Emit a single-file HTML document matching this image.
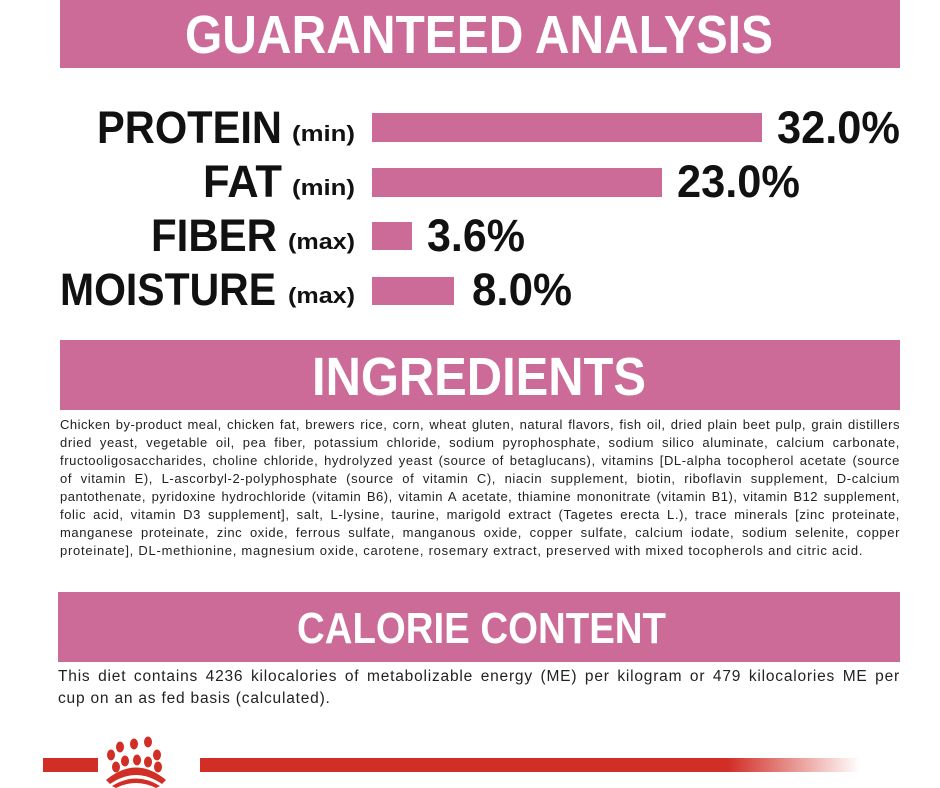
<!DOCTYPE html>
<html><head><meta charset="utf-8"><style>
html,body{margin:0;padding:0;background:#fff;width:940px;height:788px;overflow:hidden;position:relative}
svg{position:absolute;left:0;top:0}
.p{position:absolute;font-family:"Liberation Sans",sans-serif;color:#222;}
.l{white-space:nowrap;text-align:justify;text-align-last:justify;height:18px;line-height:18px}
.n{text-align-last:left}
</style></head><body>
<svg width="940" height="788" viewBox="0 0 940 788">
<defs><linearGradient id="g" x1="0" x2="1"><stop offset="0" stop-color="#d12e26"/><stop offset="0.8" stop-color="#d12e26"/><stop offset="1" stop-color="#d12e26" stop-opacity="0"/></linearGradient></defs>
<rect x="60" y="0" width="840" height="68" fill="#cc6b98"/>
<rect x="60" y="340" width="840" height="70" fill="#cc6b98"/>
<rect x="58" y="592" width="842" height="70" fill="#cc6b98"/>
<g font-family="Liberation Sans,sans-serif" font-weight="bold" fill="#fff">
<text x="185" y="53" font-size="54" textLength="588" lengthAdjust="spacingAndGlyphs">GUARANTEED ANALYSIS</text>
<text x="312" y="395" font-size="54" textLength="334" lengthAdjust="spacingAndGlyphs">INGREDIENTS</text>
<text x="297" y="643" font-size="44" textLength="369" lengthAdjust="spacingAndGlyphs">CALORIE CONTENT</text>
</g>
<g fill="#cc6b98">
<rect x="372" y="113" width="390" height="29"/>
<rect x="372" y="168" width="290" height="29"/>
<rect x="372" y="222" width="40" height="28"/>
<rect x="372" y="277" width="82" height="28"/>
</g>
<g font-family="Liberation Sans,sans-serif" font-weight="bold" fill="#111">
<text x="97" y="143" font-size="45" textLength="185" lengthAdjust="spacingAndGlyphs">PROTEIN</text>
<text x="203" y="197" font-size="45" textLength="79" lengthAdjust="spacingAndGlyphs">FAT</text>
<text x="151" y="251" font-size="45" textLength="126" lengthAdjust="spacingAndGlyphs">FIBER</text>
<text x="60" y="305" font-size="45" textLength="216" lengthAdjust="spacingAndGlyphs">MOISTURE</text>
<text x="292" y="141" font-size="22" textLength="63" lengthAdjust="spacingAndGlyphs">(min)</text>
<text x="292" y="195" font-size="22" textLength="63" lengthAdjust="spacingAndGlyphs">(min)</text>
<text x="288" y="249" font-size="22" textLength="67" lengthAdjust="spacingAndGlyphs">(max)</text>
<text x="288" y="303" font-size="22" textLength="67" lengthAdjust="spacingAndGlyphs">(max)</text>
<text x="777" y="143" font-size="45" textLength="123" lengthAdjust="spacingAndGlyphs">32.0%</text>
<text x="677" y="197" font-size="45" textLength="123" lengthAdjust="spacingAndGlyphs">23.0%</text>
<text x="427" y="251" font-size="45" textLength="98" lengthAdjust="spacingAndGlyphs">3.6%</text>
<text x="472" y="305" font-size="45" textLength="100" lengthAdjust="spacingAndGlyphs">8.0%</text>
</g>
<rect x="43" y="758" width="55" height="14" fill="#d12e26"/>
<rect x="200" y="758" width="660" height="14" fill="url(#g)"/>
<g fill="#d12e26">
<ellipse cx="134" cy="744" rx="4" ry="5.5"/><ellipse cx="148" cy="742" rx="4" ry="5.5"/><ellipse cx="120" cy="747" rx="4" ry="5.5"/><ellipse cx="111" cy="755" rx="4" ry="5.5"/><ellipse cx="157" cy="755" rx="4" ry="5.5"/>
<ellipse cx="125" cy="761" rx="4" ry="5.5"/><ellipse cx="137" cy="760" rx="4" ry="5.5"/><ellipse cx="148" cy="762" rx="4" ry="5.5"/><ellipse cx="116" cy="767" rx="4" ry="5.5"/><ellipse cx="158" cy="767" rx="4" ry="5.5"/>
<path d="M106 780 Q136 755 166 780 L162 784 Q136 766 110 784Z"/>
<path d="M112 786 Q136 771 160 786 L156 788 Q136 778 116 788Z"/>
</g>
</svg>
<div class="p" style="left:60px;top:416px;width:840px;font-size:13px;letter-spacing:0.6px">
<div class="l" style="letter-spacing:0.5px">Chicken by-product meal, chicken fat, brewers rice, corn, wheat gluten, natural flavors, fish oil, dried plain beet pulp, grain distillers</div>
<div class="l">dried yeast, vegetable oil, pea fiber, potassium chloride, sodium pyrophosphate, sodium silico aluminate, calcium carbonate,</div>
<div class="l">fructooligosaccharides, choline chloride, hydrolyzed yeast (source of betaglucans), vitamins [DL-alpha tocopherol acetate (source</div>
<div class="l">of vitamin E), L-ascorbyl-2-polyphosphate (source of vitamin C), niacin supplement, biotin, riboflavin supplement, D-calcium</div>
<div class="l" style="letter-spacing:0.5px">pantothenate, pyridoxine hydrochloride (vitamin B6), vitamin A acetate, thiamine mononitrate (vitamin B1), vitamin B12 supplement,</div>
<div class="l">folic acid, vitamin D3 supplement], salt, L-lysine, taurine, marigold extract (Tagetes erecta L.), trace minerals [zinc proteinate,</div>
<div class="l">manganese proteinate, zinc oxide, ferrous sulfate, manganous oxide, copper sulfate, calcium iodate, sodium selenite, copper</div>
<div class="l n" style="letter-spacing:0.75px">proteinate], DL-methionine, magnesium oxide, carotene, rosemary extract, preserved with mixed tocopherols and citric acid.</div>
</div>
<div class="p" style="left:58px;top:666px;width:842px;font-size:15.5px;letter-spacing:0.8px">
<div class="l" style="height:22px;line-height:22px">This diet contains 4236 kilocalories of metabolizable energy (ME) per kilogram or 479 kilocalories ME per</div>
<div class="l n" style="height:22px;line-height:22px">cup on an as fed basis (calculated).</div>
</div>
</body></html>
